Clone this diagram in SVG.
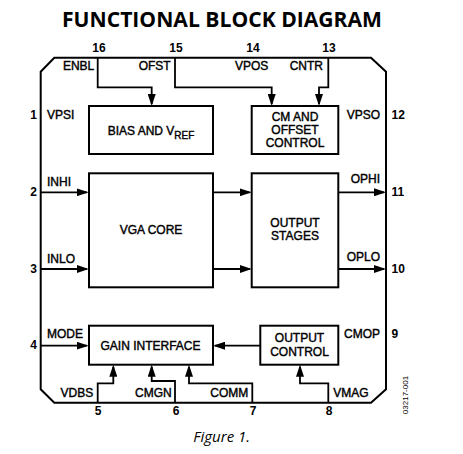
<svg xmlns="http://www.w3.org/2000/svg" width="463" height="454" viewBox="0 0 463 454">
<style>
.t{font-family:"Liberation Sans",Arial,sans-serif;font-size:12px;fill:#000;stroke:#000;stroke-width:0.4}
.n{font-family:"Liberation Sans",Arial,sans-serif;font-size:12px;font-weight:bold;fill:#000}
.m{text-anchor:middle}
.e{text-anchor:end}
.box{fill:#fff;stroke:#000;stroke-width:2}
.w{fill:none;stroke:#000;stroke-width:1.8}
</style>
<defs>
<marker id="ah" markerUnits="userSpaceOnUse" markerWidth="12" markerHeight="8" refX="10" refY="4" orient="auto">
<path d="M0,0 L12,4 L0,8 Z" fill="#000"/>
</marker>
</defs>
<rect width="463" height="454" fill="#fff"/>
<text x="222" y="27" class="m" font-family="'Open Sans','Liberation Sans',sans-serif" font-weight="bold" font-size="20.5" textLength="320" lengthAdjust="spacingAndGlyphs">FUNCTIONAL BLOCK DIAGRAM</text>

<g id="package">
<path d="M54.3,57.7 L371,57.7 L386,71.7 L386,389.3 L371,402.7 L54.3,402.7 L40.7,389.3 L40.7,71.7 Z" fill="none" stroke="#000" stroke-width="2"/>
</g>

<g id="connectors" class="w">
<path d="M97.7,57.7 V87.3 H151.7 V104" marker-end="url(#ah)"/>
<path d="M175,57.7 V87.3 H271.7 V104" marker-end="url(#ah)"/>
<path d="M328.3,57.7 V87.3 H319 V104" marker-end="url(#ah)"/>
<path d="M40.7,192.3 H86.7" marker-end="url(#ah)"/>
<path d="M40.7,269 H86.7" marker-end="url(#ah)"/>
<path d="M213,192.3 H249.7" marker-end="url(#ah)"/>
<path d="M213,269 H249.7" marker-end="url(#ah)"/>
<path d="M338.3,192.3 H384" marker-end="url(#ah)"/>
<path d="M338.3,269 H384" marker-end="url(#ah)"/>
<path d="M40.7,345.7 H86.7" marker-end="url(#ah)"/>
<path d="M260.3,345.7 H215" marker-end="url(#ah)"/>
<path d="M97.7,402.7 V383.3 H113.3 V366.7" marker-end="url(#ah)"/>
<path d="M175,402.7 V381 H151.7 V366.7" marker-end="url(#ah)"/>
<path d="M252.3,402.7 V383.3 H189 V366.7" marker-end="url(#ah)"/>
<path d="M328.3,402.7 V383.3 H300 V366.7" marker-end="url(#ah)"/>
</g>

<g id="bias">
<rect class="box" x="89" y="106" width="124" height="48"/>
<text class="t m" x="151" y="135">BIAS AND V<tspan font-size="10" dy="4">REF</tspan></text>
</g>
<g id="cm-offset">
<rect class="box" x="251.7" y="106" width="86.6" height="48"/>
<text class="t m" x="295" y="121">CM AND</text>
<text class="t m" x="295" y="134">OFFSET</text>
<text class="t m" x="295" y="147">CONTROL</text>
</g>
<g id="vga-core">
<rect class="box" x="89" y="173.3" width="124" height="114"/>
<text class="t m" x="151" y="234">VGA CORE</text>
</g>
<g id="output-stages">
<rect class="box" x="251.7" y="173.3" width="86.6" height="114"/>
<text class="t m" x="295" y="227">OUTPUT</text>
<text class="t m" x="295" y="239.5">STAGES</text>
</g>
<g id="gain-interface">
<rect class="box" x="89" y="325.7" width="124" height="39"/>
<text class="t m" x="150.5" y="349.5">GAIN INTERFACE</text>
</g>
<g id="output-control">
<rect class="box" x="260.3" y="325.7" width="78" height="39"/>
<text class="t m" x="299.5" y="342.3">OUTPUT</text>
<text class="t m" x="299.5" y="355.7">CONTROL</text>
</g>

<g id="pins">
<text class="n m" x="99" y="52">16</text>
<text class="n m" x="176" y="52">15</text>
<text class="n m" x="253" y="52">14</text>
<text class="n m" x="329" y="52">13</text>
<text class="t e" x="94.3" y="70.3">ENBL</text>
<text class="t e" x="170.7" y="70.3">OFST</text>
<text class="t m" x="251.7" y="70.3">VPOS</text>
<text class="t e" x="323" y="70.3">CNTR</text>
<text class="n e" x="37" y="119">1</text>
<text class="t" x="47" y="119">VPSI</text>
<text class="t e" x="380" y="119">VPSO</text>
<text class="n" x="391.5" y="119">12</text>
<text class="n e" x="37" y="196">2</text>
<text class="t" x="47" y="185.7">INHI</text>
<text class="n e" x="37" y="272.5">3</text>
<text class="t" x="47" y="262.7">INLO</text>
<text class="t e" x="380" y="183.3">OPHI</text>
<text class="n" x="391.5" y="196">11</text>
<text class="t e" x="380" y="260.7">OPLO</text>
<text class="n" x="391.5" y="272.5">10</text>
<text class="n e" x="37" y="349.3">4</text>
<text class="t" x="47" y="338.3">MODE</text>
<text class="t e" x="380" y="338.3">CMOP</text>
<text class="n" x="391.5" y="338.3">9</text>
<text class="t e" x="93.3" y="397.3">VDBS</text>
<text class="t e" x="171.7" y="397.3">CMGN</text>
<text class="t e" x="248.3" y="397.3">COMM</text>
<text class="t" x="333.3" y="397.3">VMAG</text>
<text class="n m" x="98" y="415">5</text>
<text class="n m" x="176" y="415">6</text>
<text class="n m" x="253" y="415">7</text>
<text class="n m" x="329" y="415">8</text>
</g>

<text x="411" y="398" transform="rotate(-90 408 398)" text-anchor="middle" font-family="'Liberation Sans',Arial,sans-serif" font-size="8" fill="#000">03217-001</text>
<text x="221.7" y="441.7" text-anchor="middle" font-family="'Open Sans','Liberation Sans',sans-serif" font-style="italic" font-size="15" fill="#000">Figure 1.</text>
</svg>
